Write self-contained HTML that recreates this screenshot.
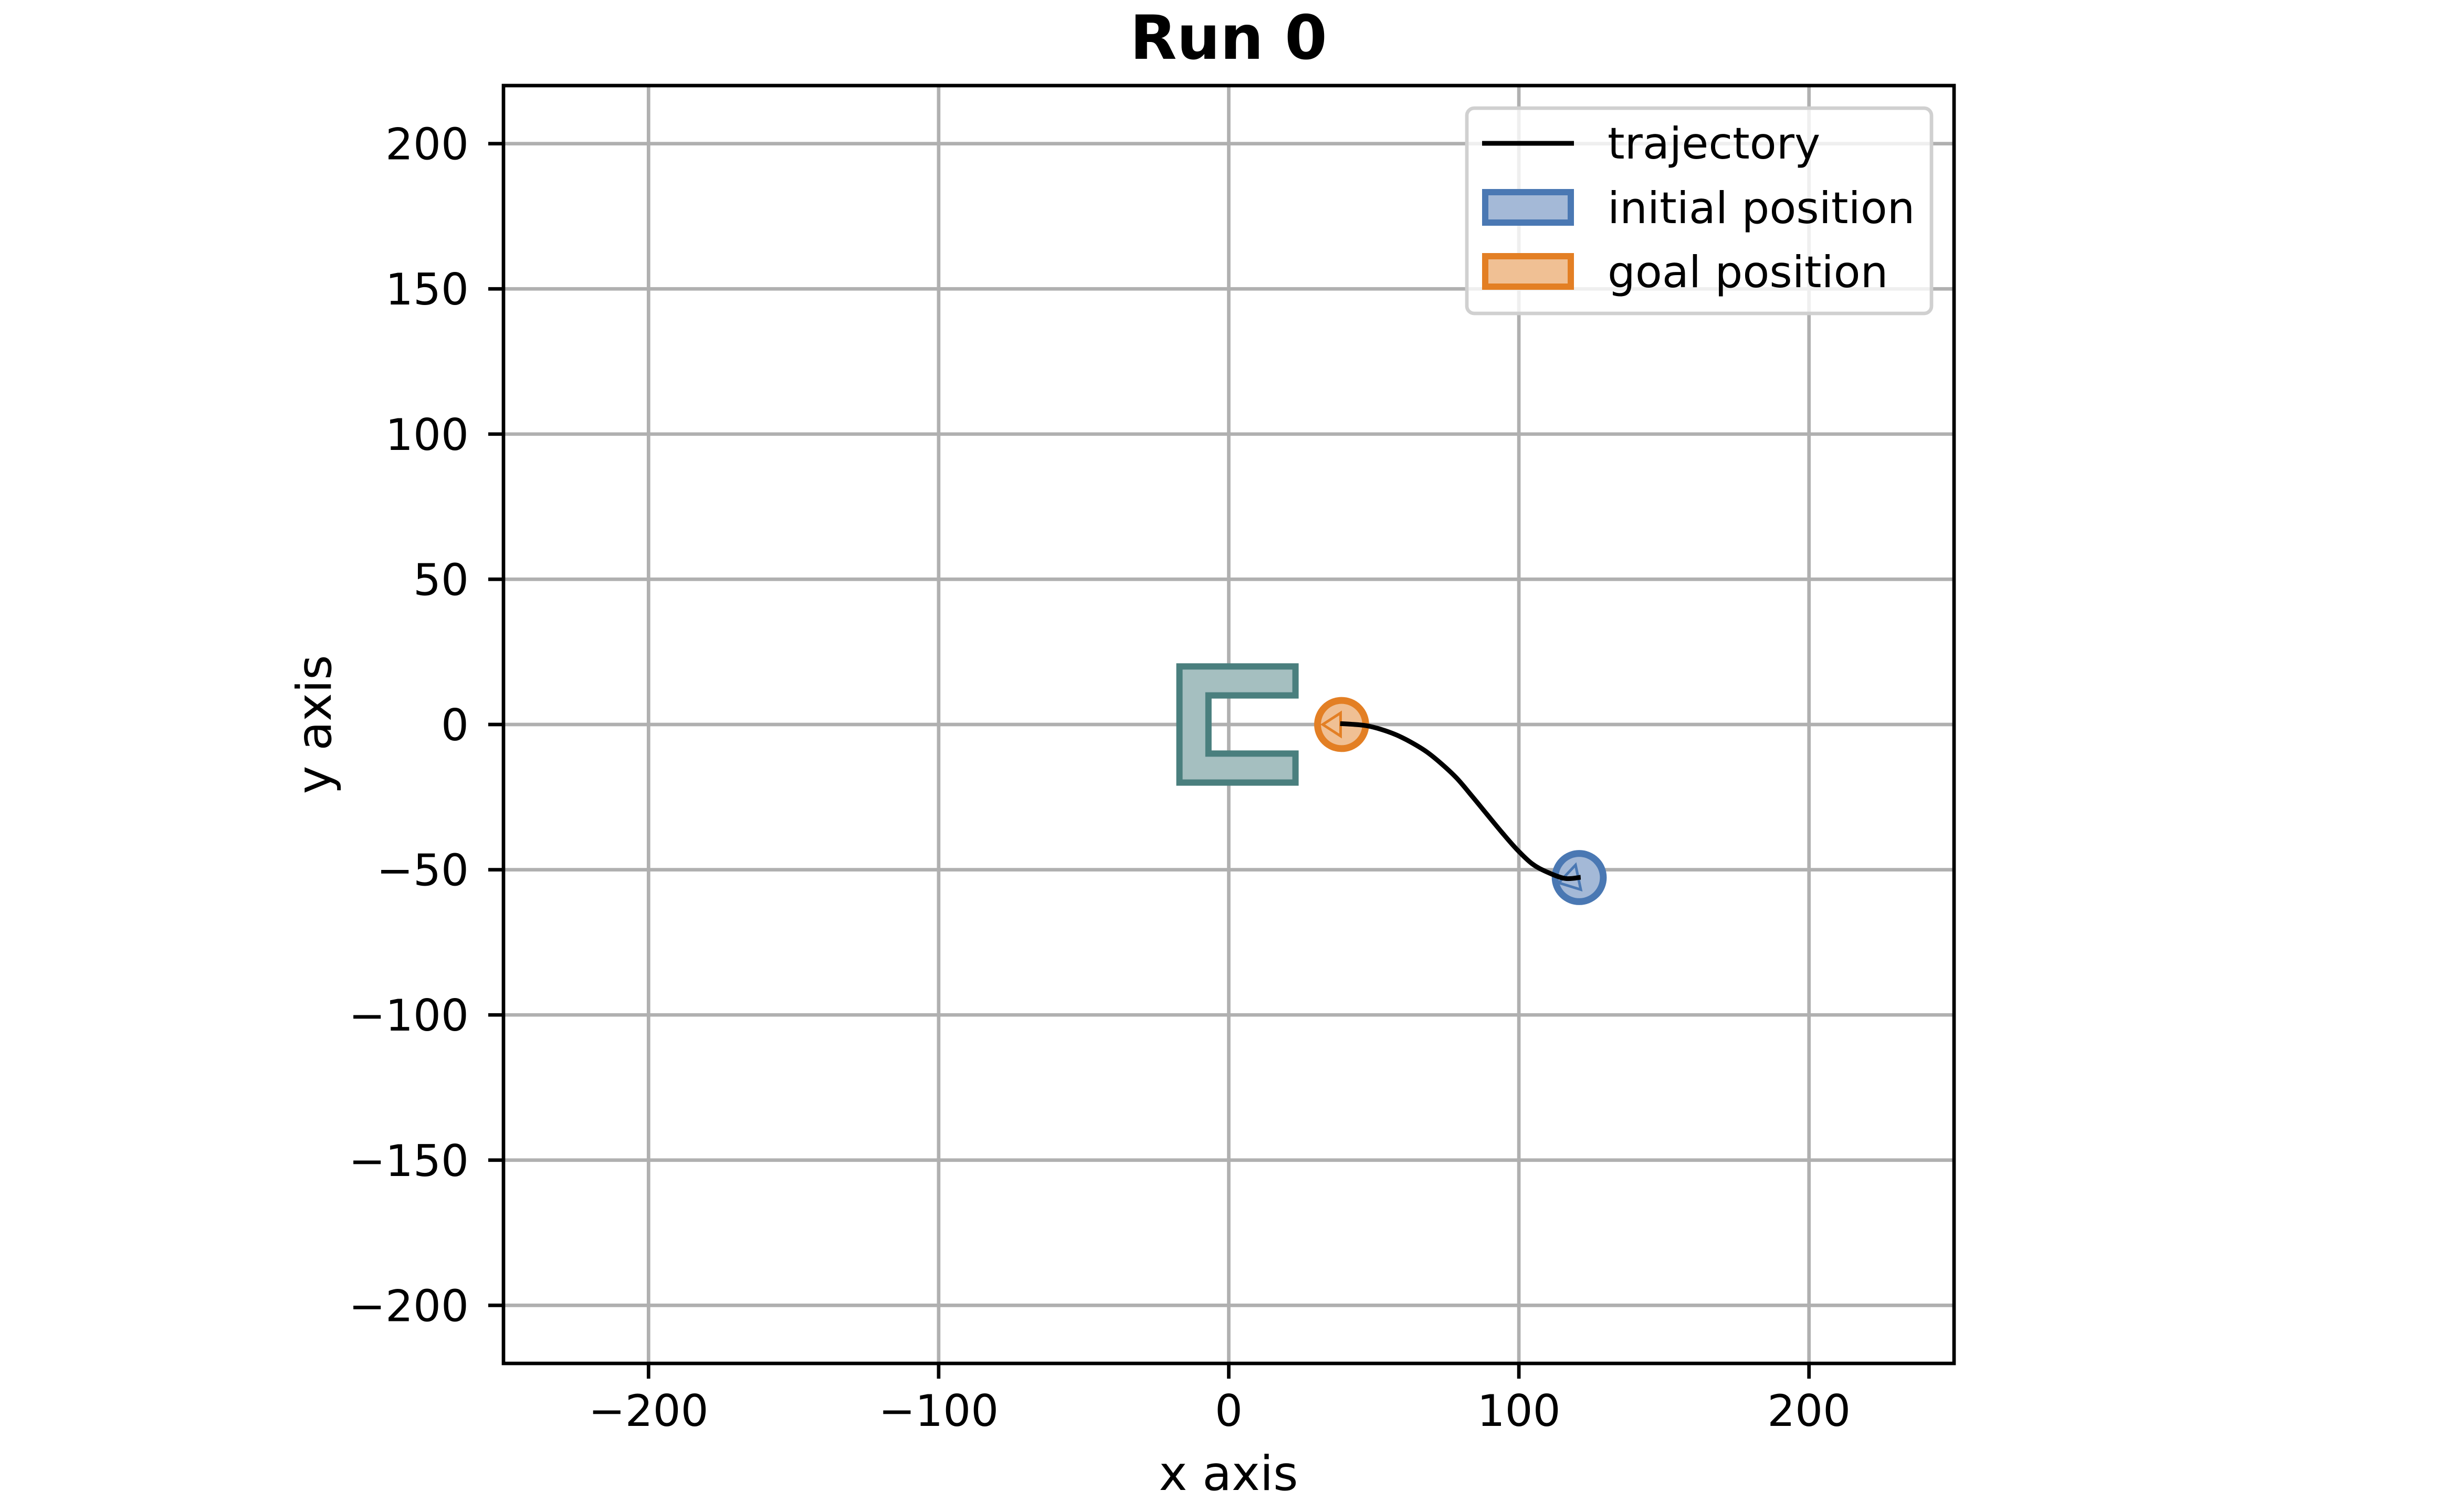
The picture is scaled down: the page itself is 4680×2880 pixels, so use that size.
<!DOCTYPE html>
<html><head><meta charset="utf-8"><style>
html,body{margin:0;padding:0;background:#fff;}
svg{display:block;font-family:"DejaVu Sans","Liberation Sans",sans-serif;}
</style></head><body>
<svg id="chart" width="4680" height="2880" viewBox="0 0 4680 2880" xmlns="http://www.w3.org/2000/svg">
<rect width="4680" height="2880" fill="#fff"/>
<g id="grid"></g>
<g id="marks"></g>
<rect x="959" y="163" width="2763" height="2434" fill="none" stroke="#000" stroke-width="6.7"/>
<g id="ticks"></g>
<text x="2340" y="112" font-size="116" font-weight="bold" text-anchor="middle">Run 0</text>
<text x="2340" y="2838" font-size="91" text-anchor="middle">x axis</text>
<text x="0" y="0" font-size="91" text-anchor="middle" transform="translate(630,1380) rotate(-90)">y axis</text>
<g>
<rect x="2794" y="206" width="885" height="391" rx="14" fill="#fff" fill-opacity="0.8" stroke="#d0d0d0" stroke-width="6.7"/>
<line x1="2823" y1="273" x2="2998" y2="273" stroke="#000" stroke-width="9"/>
<text x="3062" y="302" font-size="83.3">trajectory</text>
<rect x="2829" y="366" width="163" height="58" fill="#a4b9d7" stroke="#4a78b3" stroke-width="12"/>
<text x="3062" y="425" font-size="83.3">initial position</text>
<rect x="2829" y="488" width="163" height="58" fill="#f0c094" stroke="#e37f24" stroke-width="12"/>
<text x="3062" y="547" font-size="83.3">goal position</text>
</g>
</svg>
<script>
const xTicks = [-200, -100, 0, 100, 200];
const yTicks = [-200, -150, -100, -50, 0, 50, 100, 150, 200];
const trajX = [38.4, 42.2, 47.4, 52.6, 57.8, 63.0, 68.2, 73.4, 78.6, 83.8, 88.9, 94.2, 99.3, 104.5, 109.7, 115.9, 121.3];
const trajY = [0.3, 0.1, -0.4, -1.7, -3.6, -6.2, -9.4, -13.6, -18.5, -24.6, -30.8, -37.2, -43.0, -47.9, -50.8, -53.0, -52.6];
const obstacleX = [-17, 23, 23, -7, -7, 23, 23, -17];
const obstacleY = [20, 20, 10, 10, -10, -10, -20, -20];
const initialPos = [120.8, -52.7];
const goalPos = [38.9, 0];
const robotRadius = [8.3];

const NS = 'http://www.w3.org/2000/svg';
const L = 959, R = 3722, T = 163, B = 2597;
const xMin = -250, xMax = 250, yMin = -220, yMax = 220;
function sx(v){ return L + (v - xMin) / (xMax - xMin) * (R - L); }
function sy(v){ return B - (v - yMin) / (yMax - yMin) * (B - T); }
function mk(tag, attrs){ const e = document.createElementNS(NS, tag); for (const k in attrs) e.setAttribute(k, attrs[k]); return e; }
const fmt = v => v < 0 ? '\u2212' + Math.abs(v) : String(v);
const grid = document.getElementById('grid'), ticks = document.getElementById('ticks'), marks = document.getElementById('marks');

xTicks.forEach(v => {
  const g = mk('line', {x1: sx(v), x2: sx(v), y1: T, y2: B, stroke: '#b0b0b0', 'stroke-width': 6.7});
  
  
  grid.appendChild(g);
  const t = mk('line', {x1: sx(v), x2: sx(v), y1: B, y2: B + 29, stroke: '#000', 'stroke-width': 6.7});
  
  
  ticks.appendChild(t);
  const lb = mk('text', {x: sx(v), y: 2716, 'font-size': 83.3, 'text-anchor': 'middle'});
  lb.textContent = fmt(v);
  
  
  ticks.appendChild(lb);
});
yTicks.forEach(v => {
  const g = mk('line', {x1: L, x2: R, y1: sy(v), y2: sy(v), stroke: '#b0b0b0', 'stroke-width': 6.7});
  
  
  grid.appendChild(g);
  const t = mk('line', {x1: L - 29, x2: L, y1: sy(v), y2: sy(v), stroke: '#000', 'stroke-width': 6.7});
  
  
  ticks.appendChild(t);
  const lb = mk('text', {x: 893, y: sy(v) + 30, 'font-size': 83.3, 'text-anchor': 'end'});
  lb.textContent = fmt(v);
  
  
  ticks.appendChild(lb);
});

const obs = mk('polygon', {points: obstacleX.map((x, i) => sx(x) + ',' + sy(obstacleY[i])).join(' '), fill: '#a5bfc0', stroke: '#4a7f7e', 'stroke-width': 12, 'stroke-linejoin': 'miter'});


marks.appendChild(obs);

const rpx = robotRadius[0] * (R - L) / (xMax - xMin);
const gc = mk('circle', {cx: sx(goalPos[0]), cy: sy(goalPos[1]), r: rpx, fill: '#f0c094', stroke: '#e37f24', 'stroke-width': 13});


marks.appendChild(gc);
const gx = sx(goalPos[0]), gy = sy(goalPos[1]);
const gt = mk('polygon', {points: `${gx-36},${gy} ${gx-2},${gy-22} ${gx-2},${gy+22}`, fill: 'none', stroke: '#e37f24', 'stroke-width': 5});


marks.appendChild(gt);

const ic = mk('circle', {cx: sx(initialPos[0]), cy: sy(initialPos[1]), r: rpx, fill: '#a4b9d7', stroke: '#4a78b3', 'stroke-width': 13});


marks.appendChild(ic);
const ix = sx(initialPos[0]), iy = sy(initialPos[1]);
const it = mk('polygon', {points: `${ix-7},${iy-24} ${ix-39},${iy+10} ${ix+3},${iy+23}`, fill: 'none', stroke: '#4a78b3', 'stroke-width': 5});


marks.appendChild(it);

// smooth Catmull-Rom path through trajectory samples
const P = trajX.map((x, i) => [sx(x), sy(trajY[i])]);
let d = `M${P[0][0]},${P[0][1]}`;
for (let i = 0; i < P.length - 1; i++) {
  const p0 = P[Math.max(0, i - 1)], p1 = P[i], p2 = P[i + 1], p3 = P[Math.min(P.length - 1, i + 2)];
  const c1 = [p1[0] + (p2[0] - p0[0]) / 6, p1[1] + (p2[1] - p0[1]) / 6];
  const c2 = [p2[0] - (p3[0] - p1[0]) / 6, p2[1] - (p3[1] - p1[1]) / 6];
  d += ` C${c1[0]},${c1[1]} ${c2[0]},${c2[1]} ${p2[0]},${p2[1]}`;
}
const path = mk('path', {d: d, fill: 'none', stroke: '#000', 'stroke-width': 9, 'stroke-linejoin': 'round'});


marks.appendChild(path);
</script>
</body></html>
